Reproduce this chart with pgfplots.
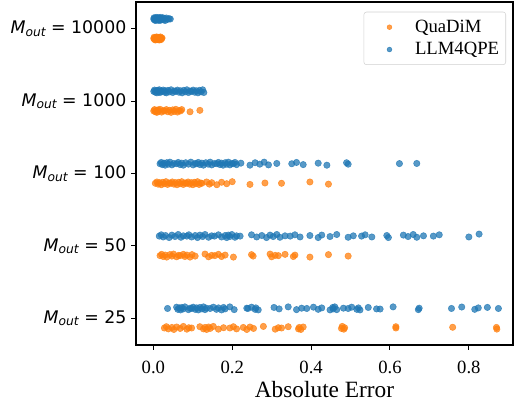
\documentclass[border=0pt]{standalone}
\usepackage{fontspec}
\setmainfont{Liberation Serif}
\newfontfamily\dejavu{DejaVu Sans}
\usepackage{pgfplots}
\pgfplotsset{compat=1.18}
\usetikzlibrary{calc}

\definecolor{qorange}{HTML}{FF7F0E}
\definecolor{lblue}{HTML}{1F77B4}

% y tick label in the style of matplotlib mathtext: $M_{out} = N$
\newcommand{\Mout}[1]{{\dejavu\itshape M}\raisebox{-0.3ex}{\fontsize{9.2}{10}\selectfont\dejavu\itshape out}{\dejavu\ =\ #1}}

\begin{document}
\begin{tikzpicture}
\begin{axis}[
    scale only axis,
    width=282.75pt, height=257.25pt,
    xmin=-0.044, xmax=0.912,
    ymin=-0.37, ymax=4.37,
    axis line style={line width=0.8pt},
    tick align=outside,
    major tick length=3.7pt,
    tick style={black, line width=0.8pt},
    xtick pos=lower, ytick pos=left,
    xtick={0,0.2,0.4,0.6,0.8},
    ytick={0,1,2,3,4},
    yticklabels={\Mout{25},\Mout{50},\Mout{100},\Mout{1000},\Mout{10000}},
    /pgf/number format/.cd, fixed, fixed zerofill, precision=1, assume math mode=true,
    /pgfplots/.cd,
    xticklabel style={font=\fontsize{14}{16}\selectfont, yshift=-4.5pt},
    yticklabel style={font=\fontsize{13}{15}\selectfont},
    xlabel={Absolute Error},
    xlabel style={font=\fontsize{17.5}{20}\selectfont, yshift=1pt},
    legend style={at={(1,1)}, anchor=north east, xshift=-5.25pt, yshift=-7.3pt,
        draw=black!18, rounded corners=2pt, fill=white, fill opacity=0.8, text opacity=1,
        font=\fontsize{14}{16}\selectfont, inner xsep=3pt, inner ysep=4pt,
        row sep=2pt, cells={anchor=west}},
    legend image code/.code={\path (0pt,0pt) (33pt,0pt); \draw[mark size=1.8pt] plot coordinates {(16pt,0pt)};},
]
\addplot[qorange, only marks, mark=*, mark size=2.4pt, mark options={draw=qorange, fill=qorange, opacity=0.75}] table {
x y
0.001 3.865
0.002 3.883
0.003 3.853
0.004 3.873
0.005 3.845
0.006 3.879
0.007 3.859
0.008 3.887
0.009 3.849
0.010 3.869
0.011 3.865
0.012 3.883
0.013 3.853
0.014 3.873
0.015 3.845
0.016 3.879
0.017 3.859
0.018 3.887
0.019 3.849
0.020 3.869
0.021 3.865
0.022 3.873
0.001 2.865
0.003 2.883
0.005 2.853
0.008 2.873
0.009 2.845
0.012 2.879
0.013 2.859
0.017 2.887
0.021 2.849
0.025 2.869
0.029 2.865
0.033 2.883
0.037 2.853
0.041 2.873
0.045 2.845
0.049 2.879
0.053 2.859
0.057 2.887
0.061 2.849
0.065 2.869
0.069 2.865
0.072 2.883
0.093 2.853
0.118 2.873
0.005 1.865
0.009 1.883
0.012 1.853
0.016 1.873
0.020 1.845
0.024 1.879
0.028 1.859
0.032 1.887
0.036 1.849
0.040 1.869
0.044 1.865
0.048 1.883
0.052 1.853
0.056 1.873
0.060 1.845
0.064 1.879
0.068 1.859
0.072 1.887
0.076 1.849
0.080 1.869
0.084 1.865
0.088 1.883
0.092 1.853
0.096 1.873
0.100 1.845
0.104 1.879
0.108 1.859
0.112 1.887
0.116 1.849
0.120 1.869
0.123 1.865
0.135 1.883
0.142 1.853
0.148 1.873
0.161 1.845
0.173 1.879
0.186 1.859
0.200 1.887
0.245 1.849
0.283 1.869
0.325 1.865
0.397 1.883
0.444 1.853
0.017 0.865
0.021 0.883
0.025 0.853
0.030 0.873
0.034 0.845
0.042 0.879
0.047 0.859
0.051 0.887
0.059 0.849
0.064 0.869
0.068 0.865
0.076 0.883
0.080 0.853
0.085 0.873
0.093 0.845
0.098 0.879
0.106 0.859
0.131 0.887
0.140 0.849
0.148 0.869
0.156 0.865
0.165 0.883
0.173 0.853
0.182 0.873
0.203 0.845
0.249 0.879
0.253 0.859
0.296 0.887
0.300 0.849
0.309 0.869
0.317 0.865
0.334 0.883
0.355 0.853
0.359 0.873
0.397 0.845
0.444 0.879
0.494 0.859
0.028 -0.135
0.033 -0.117
0.038 -0.147
0.047 -0.127
0.052 -0.155
0.059 -0.121
0.068 -0.141
0.076 -0.113
0.085 -0.151
0.090 -0.131
0.097 -0.135
0.118 -0.117
0.127 -0.147
0.131 -0.127
0.135 -0.155
0.140 -0.121
0.144 -0.141
0.152 -0.113
0.165 -0.151
0.178 -0.131
0.194 -0.135
0.203 -0.117
0.211 -0.147
0.228 -0.127
0.237 -0.155
0.245 -0.121
0.254 -0.141
0.279 -0.113
0.309 -0.151
0.317 -0.131
0.325 -0.135
0.342 -0.117
0.368 -0.147
0.370 -0.127
0.374 -0.155
0.380 -0.121
0.477 -0.141
0.479 -0.113
0.483 -0.151
0.485 -0.131
0.615 -0.135
0.615 -0.117
0.759 -0.125
0.870 -0.127
0.871 -0.150
};
\addlegendentry{QuaDiM}

\addplot[lblue, only marks, mark=*, mark size=2.4pt, mark options={draw=lblue, fill=lblue, opacity=0.75}] table {
x y
0.001 4.135
0.002 4.153
0.003 4.123
0.004 4.143
0.005 4.115
0.006 4.149
0.007 4.129
0.008 4.157
0.009 4.119
0.010 4.139
0.011 4.135
0.012 4.153
0.013 4.123
0.014 4.143
0.015 4.115
0.016 4.149
0.017 4.129
0.018 4.157
0.019 4.119
0.020 4.139
0.022 4.135
0.024 4.153
0.026 4.123
0.028 4.143
0.030 4.115
0.033 4.149
0.036 4.129
0.040 4.139
0.043 4.135
0.001 3.135
0.003 3.153
0.005 3.123
0.007 3.143
0.009 3.115
0.011 3.149
0.013 3.129
0.015 3.157
0.017 3.119
0.020 3.139
0.021 3.135
0.025 3.153
0.029 3.123
0.030 3.143
0.033 3.115
0.037 3.149
0.041 3.129
0.045 3.157
0.049 3.119
0.053 3.139
0.057 3.135
0.061 3.153
0.065 3.123
0.069 3.143
0.073 3.115
0.077 3.149
0.081 3.129
0.085 3.157
0.089 3.119
0.093 3.139
0.097 3.135
0.101 3.153
0.105 3.123
0.109 3.143
0.113 3.115
0.117 3.149
0.121 3.129
0.125 3.157
0.128 3.119
0.017 2.135
0.020 2.153
0.023 2.123
0.027 2.143
0.030 2.115
0.034 2.149
0.038 2.129
0.042 2.157
0.047 2.119
0.052 2.139
0.059 2.135
0.063 2.153
0.068 2.123
0.072 2.143
0.076 2.115
0.082 2.149
0.089 2.129
0.095 2.157
0.101 2.119
0.106 2.139
0.110 2.135
0.114 2.153
0.118 2.123
0.123 2.143
0.127 2.115
0.133 2.149
0.139 2.129
0.144 2.157
0.148 2.119
0.155 2.139
0.161 2.135
0.165 2.153
0.169 2.123
0.173 2.143
0.177 2.115
0.182 2.149
0.186 2.129
0.190 2.157
0.194 2.119
0.199 2.139
0.203 2.135
0.207 2.153
0.211 2.123
0.222 2.143
0.245 2.115
0.258 2.149
0.270 2.129
0.281 2.157
0.292 2.119
0.313 2.139
0.351 2.135
0.363 2.153
0.380 2.123
0.418 2.143
0.440 2.115
0.490 2.149
0.494 2.129
0.624 2.137
0.668 2.139
0.015 1.135
0.020 1.153
0.025 1.123
0.031 1.143
0.040 1.115
0.047 1.149
0.055 1.129
0.063 1.157
0.070 1.119
0.076 1.139
0.085 1.135
0.090 1.153
0.097 1.123
0.106 1.143
0.112 1.115
0.118 1.149
0.125 1.129
0.131 1.157
0.140 1.119
0.148 1.139
0.155 1.135
0.165 1.153
0.173 1.123
0.182 1.143
0.186 1.115
0.190 1.149
0.194 1.129
0.199 1.157
0.207 1.119
0.211 1.139
0.220 1.135
0.249 1.153
0.262 1.123
0.275 1.143
0.287 1.115
0.296 1.149
0.304 1.129
0.313 1.157
0.321 1.119
0.334 1.139
0.347 1.135
0.359 1.153
0.372 1.123
0.397 1.143
0.418 1.115
0.427 1.149
0.448 1.129
0.465 1.157
0.494 1.119
0.507 1.139
0.528 1.135
0.537 1.153
0.554 1.123
0.592 1.143
0.596 1.115
0.634 1.149
0.646 1.129
0.659 1.157
0.668 1.119
0.685 1.139
0.710 1.135
0.725 1.153
0.800 1.123
0.826 1.163
0.036 0.135
0.059 0.153
0.062 0.123
0.066 0.143
0.069 0.115
0.072 0.149
0.076 0.129
0.080 0.157
0.089 0.119
0.093 0.139
0.097 0.135
0.101 0.153
0.106 0.123
0.110 0.143
0.114 0.115
0.118 0.149
0.123 0.129
0.127 0.157
0.131 0.119
0.135 0.139
0.144 0.135
0.152 0.153
0.160 0.123
0.165 0.143
0.173 0.115
0.178 0.149
0.182 0.129
0.194 0.157
0.205 0.119
0.237 0.139
0.240 0.135
0.249 0.153
0.258 0.123
0.260 0.143
0.266 0.115
0.306 0.149
0.319 0.129
0.342 0.157
0.363 0.119
0.376 0.139
0.389 0.135
0.406 0.153
0.418 0.123
0.427 0.143
0.448 0.115
0.455 0.149
0.456 0.129
0.460 0.157
0.465 0.119
0.482 0.139
0.494 0.135
0.503 0.153
0.516 0.123
0.520 0.143
0.524 0.115
0.545 0.149
0.566 0.129
0.575 0.127
0.608 0.157
0.672 0.119
0.674 0.139
0.756 0.135
0.782 0.155
0.815 0.123
0.824 0.143
0.847 0.150
0.875 0.135
};
\addlegendentry{LLM4QPE}
\end{axis}
\pgfresetboundingbox
\path ($(current axis.south west)+(-102pt,-42.75pt)$) rectangle ($(current axis.north east)+(2.25pt,1.5pt)$);
\end{tikzpicture}
\end{document}
